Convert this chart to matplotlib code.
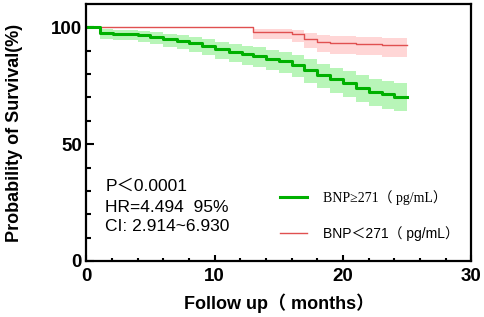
import numpy as np
import matplotlib
matplotlib.use("Agg")
import matplotlib.pyplot as plt

# Kaplan-Meier steps (months, survival %, lower CI, upper CI)
t_high = [0, 1.1, 2.1, 4.0, 5.0, 6.0, 7.1, 8.0, 9.0, 10.0, 11.1, 12.1, 13.0,
          14.0, 15.0, 16.0, 17.0, 18.0, 19.0, 20.0, 21.0, 22.0, 23.0, 24.0, 25.0]
s_high = [100, 97.8, 97.2, 96.8, 96.1, 95.1, 94.2, 93.2, 92.2, 90.7, 89.6, 88.5, 87.8,
          86.4, 85.5, 83.9, 81.8, 79.7, 77.8, 76.1, 74.2, 72.5, 71.5, 70.4, 70.4]
lo_high = [100, 95.0, 94.5, 93.8, 93.0, 91.8, 90.6, 89.4, 88.3, 86.6, 85.3, 84.0, 83.2,
           81.6, 80.5, 78.7, 76.3, 74.0, 71.9, 70.0, 68.0, 66.2, 65.1, 64.0, 64.0]
hi_high = [100, 99.2, 98.8, 98.6, 98.2, 97.4, 96.8, 96.0, 95.2, 93.9, 93.0, 92.1, 91.5,
           90.3, 89.5, 88.1, 86.3, 84.4, 82.7, 81.2, 79.5, 77.9, 77.0, 76.0, 76.0]

t_low = [0, 13.0, 16.0, 17.0, 18.0, 19.0, 21.0, 23.0, 25.0]
s_low = [100, 98.2, 97.2, 95.1, 93.9, 93.2, 92.8, 92.4, 92.4]
lo_low = [100, 95.0, 93.6, 91.0, 89.4, 88.6, 88.0, 87.5, 87.5]
hi_low = [100, 99.4, 98.9, 97.5, 96.7, 96.2, 95.9, 95.6, 95.6]

lab_high = "BNP≥271（ pg/mL）"
lab_low = "BNP＜271（ pg/mL）"
stats = ["P＜0.0001", "HR=4.494  95%", "CI: 2.914~6.930"]
stats_y = [32.1, 22.9, 14.6]

sans = ['Liberation Sans', 'Noto Sans CJK SC']
serif = ['Liberation Serif', 'Noto Sans CJK SC']

fig = plt.figure(figsize=(4.84, 3.17), dpi=100)
ax = fig.add_axes([0.178, 0.177, 0.796, 0.81])

green = '#00b000'
red = '#e05050'

ax.fill_between(t_high, lo_high, hi_high, step='post', color='#b8f5b8', lw=0)
ax.fill_between(t_low, lo_low, hi_low, step='post', color='#ffd6d6', lw=0)
ax.step(t_low, s_low, where='post', color=red, lw=1.0, label=lab_low)
ax.step(t_high, s_high, where='post', color=green, lw=2.2, label=lab_high)

ax.set_xlim(0, 30)
ax.set_ylim(0, 110)
ax.set_xticks([0, 10, 20, 30])
ax.set_xticks(np.arange(0, 31, 2), minor=True)
ax.set_yticks([0, 50, 100])
ax.set_yticks(np.arange(0, 101, 10), minor=True)

for s in ax.spines.values():
    s.set_linewidth(1.6)
ax.tick_params(axis='both', which='both', direction='in', width=1.5)
ax.tick_params(axis='x', which='major', length=4.5, pad=5)
ax.tick_params(axis='x', which='minor', length=2.5)
ax.tick_params(axis='y', which='major', length=6, pad=3)
ax.tick_params(axis='y', which='minor', length=3.5)
for lab in ax.get_xticklabels() + ax.get_yticklabels():
    lab.set_family(sans)
    lab.set_fontweight('bold')
    lab.set_fontsize(13.5)

ax.set_ylabel("Probability of Survival(%)", family=sans, fontweight='bold', fontsize=13, labelpad=20)
ax.set_xlabel("Follow up（ months）", family=sans, fontweight='bold', fontsize=13, labelpad=6)

for txt, yy in zip(stats, stats_y):
    ax.text(1.5, yy, txt, family=sans, fontsize=12.5, va='center', ha='left')

h, l = ax.get_legend_handles_labels()
leg = ax.legend(h[::-1], l[::-1], loc='center left', bbox_to_anchor=(0.503, 0.177),
                frameon=False, fontsize=10, handlelength=1.95, handletextpad=1.15,
                labelspacing=1.5, borderpad=0, borderaxespad=0)
leg.get_texts()[0].set_family(serif)
leg.get_texts()[1].set_family(sans)

fig.savefig("out.png", dpi=100)
